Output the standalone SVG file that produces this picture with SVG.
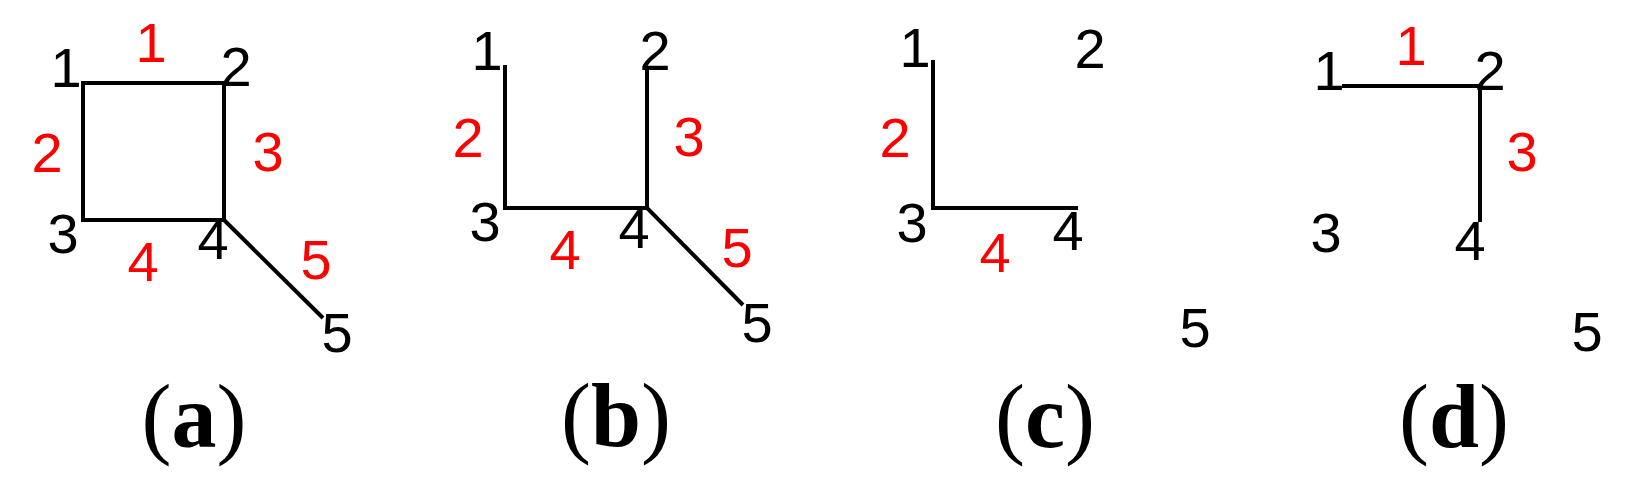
<svg xmlns="http://www.w3.org/2000/svg" width="1650" height="490" viewBox="0 0 1650 490">
<style>
.e{stroke:#000;stroke-width:4;fill:none;stroke-linecap:butt}
.n{font-family:"Liberation Sans",Arial,sans-serif;font-size:56px;fill:#000;text-anchor:middle}
.r{font-family:"Liberation Sans",Arial,sans-serif;font-size:56px;fill:#ff0000;text-anchor:middle}
.c{font-family:"Liberation Serif","Times New Roman",serif;font-size:90px;font-weight:bold;fill:#000;text-anchor:middle}
.p{font-weight:normal}
</style>
<rect width="1650" height="490" fill="#fff"/>
<g id="connectors">
<path class="e" d="M83 83H224V220H83Z"/>
<path class="e" d="M224 220L323 318"/>
<path class="e" d="M505 65V208H647M647 68V208L743 305"/>
<path class="e" d="M933 60V208H1078"/>
<path class="e" d="M1342 86H1480V222"/>
</g>
<g id="panel-a">
<text class="n" x="66" y="87">1</text>
<text class="n" x="236" y="86">2</text>
<text class="n" x="63" y="253">3</text>
<text class="n" x="213" y="259">4</text>
<text class="n" x="337" y="352">5</text>
<text class="r" x="151" y="62">1</text>
<text class="r" x="47" y="172">2</text>
<text class="r" x="268" y="171">3</text>
<text class="r" x="143" y="281">4</text>
<text class="r" x="316" y="279">5</text>
<text class="c" x="194" y="447"><tspan class="p">(</tspan>a<tspan class="p">)</tspan></text>
</g>
<g id="panel-b">
<text class="n" x="487" y="70">1</text>
<text class="n" x="655" y="70">2</text>
<text class="n" x="485" y="241">3</text>
<text class="n" x="634" y="248">4</text>
<text class="n" x="757" y="342">5</text>
<text class="r" x="468" y="157">2</text>
<text class="r" x="689" y="156">3</text>
<text class="r" x="565" y="269">4</text>
<text class="r" x="737" y="267">5</text>
<text class="c" x="616" y="446"><tspan class="p">(</tspan>b<tspan class="p">)</tspan></text>
</g>
<g id="panel-c">
<text class="n" x="915" y="67">1</text>
<text class="n" x="1090" y="68">2</text>
<text class="n" x="912" y="242">3</text>
<text class="n" x="1068" y="250">4</text>
<text class="n" x="1195" y="347">5</text>
<text class="r" x="895" y="157">2</text>
<text class="r" x="995" y="272">4</text>
<text class="c" x="1045" y="447"><tspan class="p">(</tspan>c<tspan class="p">)</tspan></text>
</g>
<g id="panel-d">
<text class="n" x="1329" y="90">1</text>
<text class="n" x="1490" y="90">2</text>
<text class="n" x="1326" y="252">3</text>
<text class="n" x="1470" y="260">4</text>
<text class="n" x="1587" y="351">5</text>
<text class="r" x="1411" y="65">1</text>
<text class="r" x="1522" y="171">3</text>
<text class="c" x="1454" y="447"><tspan class="p">(</tspan>d<tspan class="p">)</tspan></text>
</g>
</svg>
